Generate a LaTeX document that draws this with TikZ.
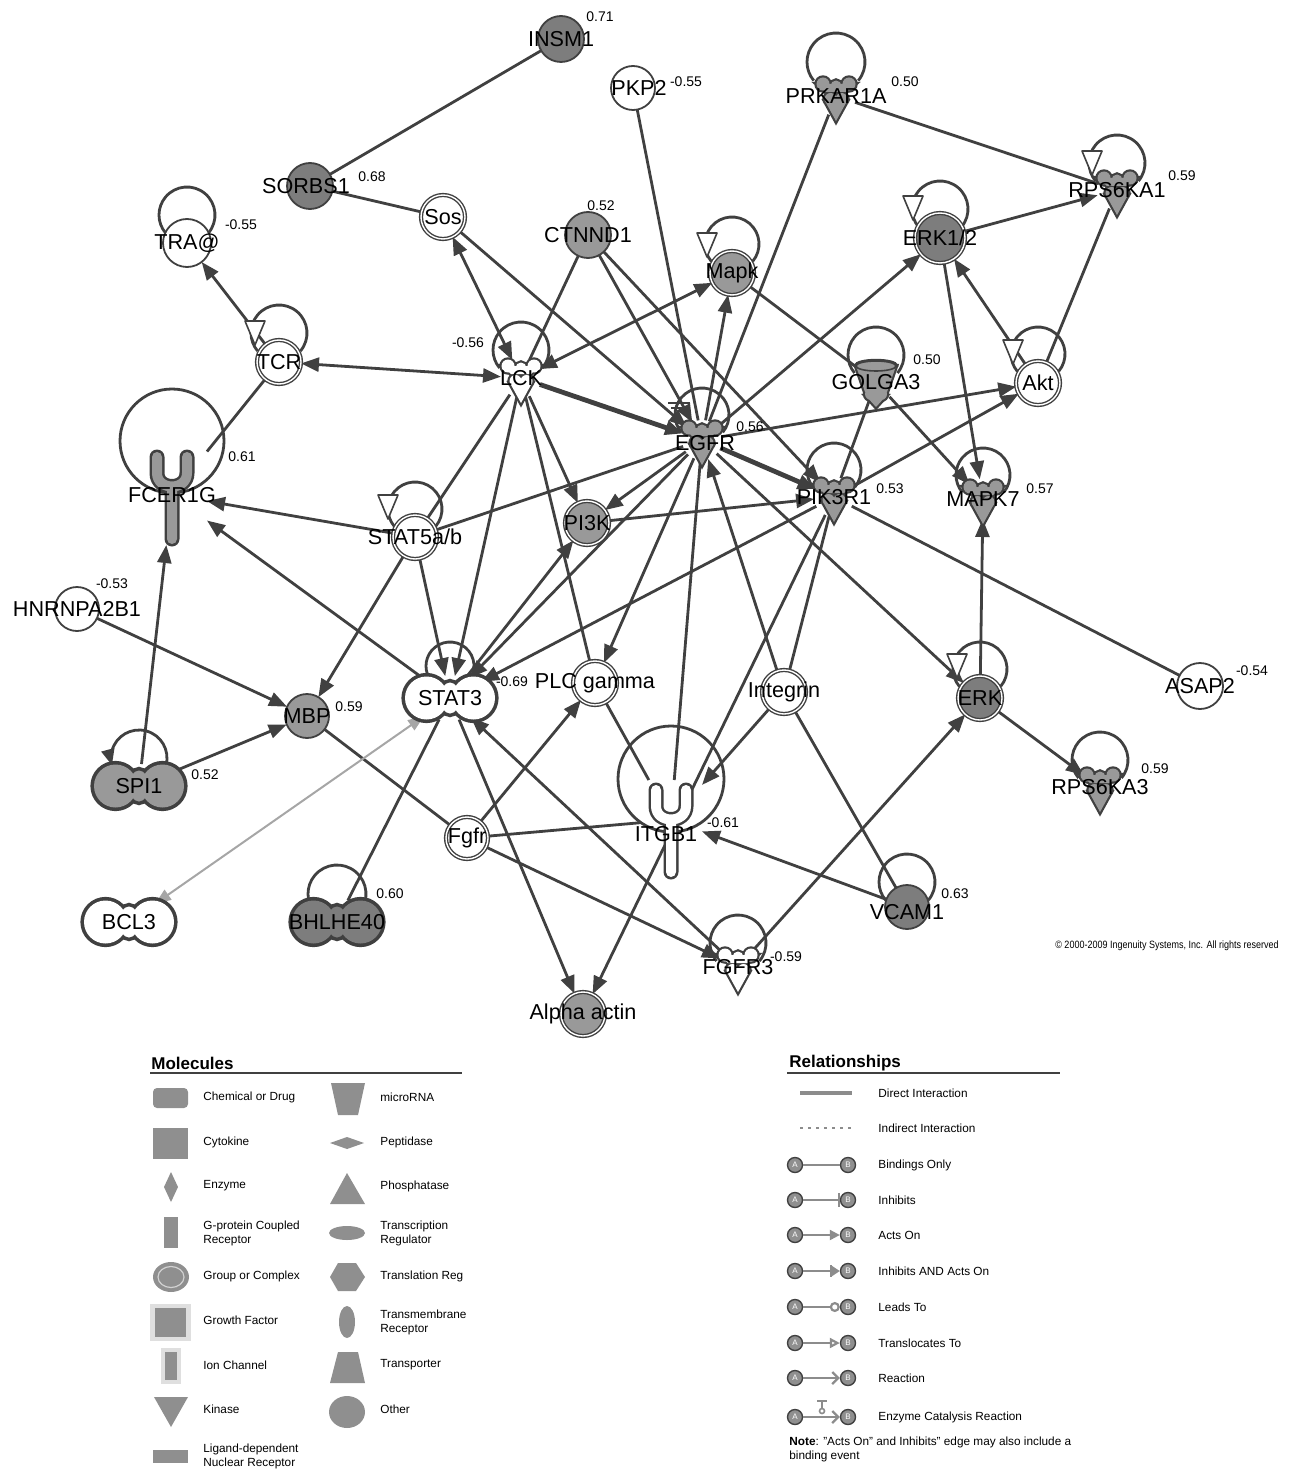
\documentclass[tikz,border=0pt]{standalone}
\usepackage{fontspec}
\setmainfont{Liberation Sans}
\usepackage{graphicx}
\usetikzlibrary{arrows.meta,shapes.geometric}
\pgfdeclarelayer{bg}
\pgfdeclarelayer{mid}
\pgfsetlayers{bg,mid,main}
\definecolor{edgec}{HTML}{404040}
\definecolor{gmid}{HTML}{999999}
\definecolor{gdark}{HTML}{7D7D7D}
\definecolor{glite}{HTML}{A6A6A6}
\definecolor{lgfill}{HTML}{8F8F8F}
\definecolor{lgline}{HTML}{8C8C8C}

\tikzset{
  lbl/.style={font=\fontsize{10.8}{12}\selectfont, inner sep=0pt},
  val/.style={font=\fontsize{7}{8}\selectfont, inner sep=0pt},
  nm/.style={label={[lbl]center:#1}},
  mol/.style={circle, inner sep=0pt, outer sep=0pt, minimum size=22pt, draw=edgec, line width=0.9pt},
  grp/.style={mol, line width=0.7pt, double=white, double distance=0.7pt},
  kin/.style={circle, inner sep=0pt, outer sep=0pt, minimum size=20pt},
  pea/.style={ellipse, inner sep=0pt, outer sep=0pt, minimum width=46pt, minimum height=22pt},
  rcpt/.style={rectangle, inner sep=0pt, outer sep=0pt, minimum width=#1},
  bind/.style={draw=edgec, line width=1.4pt},
  act/.style={bind, -{Triangle[length=9pt,width=7pt]}},
  both/.style={bind, {Triangle[length=9pt,width=7pt]}-{Triangle[length=9pt,width=7pt]}},
  thk/.style={line width=2.4pt},
  loopln/.style={draw=edgec, line width=1.4pt},
  head/.style={font=\bfseries\fontsize{8.5}{10}\selectfont, inner sep=0pt, anchor=west},
  lgt/.style={font=\fontsize{5.9}{7}\selectfont, inner sep=0pt, anchor=west, align=left},
  lgA/.style={circle, fill=lgfill, draw=edgec, line width=0.7pt, minimum size=7.5pt, inner sep=0pt,
    font=\fontsize{4}{4}\selectfont, text=white},
  lgln/.style={draw=lgline, line width=1.1pt},
  pics/kinbody/.style={code={
    \path[#1] (-13,-12) circle[radius=6.5] (13,-12) circle[radius=6.5] (0,-10) circle[radius=5.5]
      (-19,-12) -- (19,-12) -- (10,-4) -- (-10,-4) -- cycle
      (-5.5,3) circle[radius=6] (5.5,3) circle[radius=6]
      (-11,5) -- (11,5) -- (0,25) -- cycle;}},
  pics/peabody/.style={code={
    \path[#1] (-23.5,0) circle[radius=21.5] (23.5,0) circle[radius=21.5]
      (0,0) ellipse[x radius=10, y radius=15.5];}},
  pics/rcptbody/.style={code={
    \draw[#1, line cap=round] (-15,-30) -- (-15,-14) .. controls (-15,4) and (15,4) .. (15,-14) -- (15,-30)
      (0,0) -- (0,52);}},
  pics/bucket/.style={code={
    \path[#1] (0,-16) ellipse[x radius=20, y radius=5] (-20,-16) -- (20,-16) -- (11,10) -- (-11,10) -- cycle
      (-5,12) circle[radius=6] (5,12) circle[radius=6] (-10,14) -- (10,14) -- (0,25) -- cycle;}},
  pics/otri/.style={code={
    \draw[edgec, fill=white, line width=0.8pt, line join=round] (-10,-12) -- (10,-12) -- (0,12) -- cycle;}},
}

\newcommand\kinase[2]{%
  \pic at (#1.center) {kinbody={draw=edgec,line width=2.2pt}};
  \pic at (#1.center) {kinbody={fill=#2}};}
\newcommand\peanut[2]{%
  \pic at (#1.center) {peabody={draw=edgec,line width=3.6pt}};
  \pic at (#1.center) {peabody={fill=#2}};}
\newcommand\receptor[3]{%
  \pic at ([shift={(0,#3)}]#1.center) {rcptbody={draw=edgec,line width=7.5pt}};
  \pic at ([shift={(0,#3)}]#1.center) {rcptbody={draw=#2,line width=5pt}};}
\newcommand\selfloop[3]{%
  \draw[loopln] (#1.center) ++(0,-#2) ++(40:#3) arc[start angle=40, end angle=-220, radius=#3];}

\begin{document}
\begin{tikzpicture}[x=0.5pt, y=-0.5pt]
\useasboundingbox (0,0) rectangle (1293,1481);

% molecules
\node[mol, fill=gdark, minimum size=23pt, nm=INSM1] (INSM1) at (561,39) {};
\node[mol, fill=white, label={[lbl, xshift=3pt]center:PKP2}] (PKP2) at (633,88) {};
\node[kin, nm=PRKAR1A] (PRKAR1A) at (836,96) {};
\node[mol, fill=gdark, minimum size=23pt, label={[lbl, xshift=-2pt]center:SORBS1}] (SORBS1) at (310,186) {};
\node[grp, fill=white, nm=Sos] (Sos) at (443,217) {};
\node[mol, fill=white, minimum size=24pt, nm=TRA@] (TRA) at (187,243) {};
\node[mol, fill=gmid, minimum size=23pt, nm=CTNND1] (CTNND1) at (588,235) {};
\node[grp, fill=gmid, nm=Mapk] (Mapk) at (732,273) {};
\node[grp, fill=gdark, minimum size=25pt, nm=ERK1/2] (ERKa) at (940,238) {};
\node[kin, nm=RPS6KA1] (RPS6KA1) at (1117,190) {};
\node[grp, fill=white, nm=TCR] (TCR) at (279,362) {};
\node[kin, nm=LCK] (LCK) at (521,378) {};
\node[kin, nm=GOLGA3] (GOLGA3) at (876,382) {};
\node[grp, fill=white, nm=Akt] (Akt) at (1038,383) {};
\node[kin, label={[lbl, xshift=1.5pt, yshift=-1.5pt]center:EGFR}] (EGFR) at (702,440) {};
\node[kin, nm=PIK3R1] (PIK3R1) at (834,497) {};
\node[kin, nm=MAPK7] (MAPK7) at (983,499) {};
\node[rcpt=35pt, minimum height=50pt, nm=FCER1G] (FCER1G) at (172,495) {};
\node[grp, fill=white, nm=STAT5a/b] (STAT5) at (415,537) {};
\node[grp, fill=gmid, nm=PI3K] (PI3K) at (587,523) {};
\node[mol, fill=white, nm=HNRNPA2B1] (HNRNPA2B1) at (77,609) {};
\node[pea, nm=STAT3] (STAT3) at (450,698) {};
\node[grp, fill=white, nm=PLC gamma] (PLCg) at (595,683) {};
\node[grp, fill=white, nm=Integrin] (Integrin) at (784,692) {};
\node[grp, fill=gdark, nm=ERK] (ERK) at (980,698) {};
\node[mol, fill=white, minimum size=23pt, nm=ASAP2] (ASAP2) at (1200,686) {};
\node[mol, fill=gmid, nm=MBP] (MBP) at (307,716) {};
\node[pea, nm=SPI1] (SPI1) at (139,786) {};
\node[kin, nm=RPS6KA3] (RPS6KA3) at (1100,787) {};
\node[rcpt=31pt, minimum height=40pt, label={[lbl, xshift=-2.5pt, yshift=-7pt]center:ITGB1}] (ITGB1) at (671,820) {};
\node[grp, fill=white, minimum size=21pt, nm=Fgfr] (Fgfr) at (467,838) {};
\node[pea, nm=BCL3] (BCL3) at (129,922) {};
\node[pea, nm=BHLHE40] (BHLHE40) at (337,922) {};
\node[mol, fill=gdark, label={[lbl, yshift=-2.5pt]center:VCAM1}] (VCAM1) at (907,907) {};
\node[kin, nm=FGFR3] (FGFR3) at (738,967) {};
\node[grp, fill=gmid, nm=Alpha actin] (Actin) at (583,1014) {};

% shapes
\begin{pgfonlayer}{mid}
  \kinase{PRKAR1A}{gmid}
  \kinase{RPS6KA1}{gmid}
  \kinase{LCK}{white}
  \kinase{EGFR}{gmid}
  \kinase{PIK3R1}{gmid}
  \kinase{MAPK7}{gmid}
  \kinase{RPS6KA3}{gmid}
  \kinase{FGFR3}{white}
  \peanut{STAT3}{white}
  \peanut{SPI1}{gmid}
  \peanut{BCL3}{white}
  \peanut{BHLHE40}{gdark}
  \receptor{FCER1G}{gmid}{-8}
  \receptor{ITGB1}{white}{0}
  \pic at (GOLGA3.center) {bucket={draw=edgec,line width=2.2pt}};
  \pic at (GOLGA3.center) {bucket={fill=gmid}};
  \draw[edgec, line width=0.8pt] (GOLGA3.center) ++(0,-16) ellipse[x radius=20, y radius=5];
  \pic at (255,333) {otri};
  \pic at (707,245) {otri};
  \pic at (913,208) {otri};
  \pic at (1092,163) {otri};
  \pic at (1013,352) {otri};
  \pic at (388,507) {otri};
  \pic at (957,666) {otri};
\end{pgfonlayer}

% values
\node[val] (vINSM1) at (600,17) {0.71};
\node[val] (vPKP2) at (686,82) {-0.55};
\node[val] (vPRKAR1A) at (905,82) {0.50};
\node[val] (vSORBS1) at (372,177) {0.68};
\node[val] (vTRA) at (241,225) {-0.55};
\node[val] (vCTNND1) at (601,206) {0.52};
\node[val] (vRPS6KA1) at (1182,176) {0.59};
\node[val] (vLCK) at (468,343) {-0.56};
\node[val] (vGOLGA3) at (927,360) {0.50};
\node[val] (vEGFR) at (750,427) {0.56};
\node[val] (vPIK3R1) at (890,489) {0.53};
\node[val] (vMAPK7) at (1040,489) {0.57};
\node[val] (vFCER1G) at (242,457) {0.61};
\node[val] (vHNRNPA2B1) at (112,584) {-0.53};
\node[val] (vSTAT3) at (512,682) {-0.69};
\node[val] (vASAP2) at (1252,671) {-0.54};
\node[val] (vMBP) at (349,707) {0.59};
\node[val] (vSPI1) at (205,775) {0.52};
\node[val] (vRPS6KA3) at (1155,769) {0.59};
\node[val] (vITGB1) at (723,823) {-0.61};
\node[val] (vBHLHE40) at (390,894) {0.60};
\node[val] (vVCAM1) at (955,894) {0.63};
\node[val] (vFGFR3) at (786,957) {-0.59};

\node[font=\fontsize{5.3}{6}\selectfont, inner sep=0pt] (copyr) at (1167,946)
  {\scalebox{0.85}[1]{© 2000-2009 Ingenuity Systems, Inc. All rights reserved}};

% connectors
\begin{pgfonlayer}{bg}
  \selfloop{PRKAR1A}{34}{29}
  \selfloop{RPS6KA1}{27}{28}
  \selfloop{ERKa}{29}{28}
  \selfloop{Mapk}{29}{27}
  \selfloop{TRA}{28}{28}
  \selfloop{TCR}{29}{28}
  \selfloop{LCK}{28}{28}
  \selfloop{GOLGA3}{27}{28}
  \selfloop{Akt}{29}{27}
  \selfloop{EGFR}{25}{27}
  \selfloop{PIK3R1}{27}{27}
  \selfloop{MAPK7}{24}{27}
  \selfloop{STAT5}{28}{27}
  \selfloop{STAT3}{32}{24}
  \selfloop{ERK}{29}{27}
  \selfloop{RPS6KA3}{27}{28}
  \selfloop{BHLHE40}{28}{29}
  \selfloop{VCAM1}{25}{28}
  \selfloop{FGFR3}{24}{28}
  \draw[loopln, -{Triangle[length=8pt,width=6.5pt]}] (SPI1.center) ++(0,-28) ++(15:28)
    arc[start angle=15, end angle=-195, radius=28];
  \draw[loopln] (FCER1G.center) ++(0,-54) circle[radius=52];
  \draw[loopln] (ITGB1.center) ++(0,-41) circle[radius=53];
  \draw[edgec, line width=1.1pt] (668,403) -- (690,403) (671,408) -- (688,408);

  \draw[bind] (INSM1) -- (SORBS1);
  \draw[bind] (SORBS1) -- (Sos);
  \draw[bind] (PKP2) -- (EGFR);
  \draw[bind] (PRKAR1A) -- (EGFR);
  \draw[bind] (PRKAR1A) -- (RPS6KA1);
  \draw[bind] (RPS6KA1) -- (Akt);
  \draw[bind] (CTNND1) -- (LCK);
  \draw[bind] (TCR) -- (FCER1G);
  \draw[bind] (LCK) -- (PLCg);
  \draw[bind] (LCK) -- (STAT5);
  \draw[bind] (STAT5) -- (EGFR);
  \draw[bind] (GOLGA3) -- (PIK3R1);
  \draw[bind] (Mapk) -- (GOLGA3);
  \draw[bind] (EGFR) -- (ITGB1);
  \draw[bind] (PIK3R1) -- (Integrin);
  \draw[bind] (Integrin) -- (VCAM1);
  \draw[bind] (Fgfr) -- (ITGB1);
  \draw[bind] (MBP) -- (Fgfr);
  \draw[bind] (STAT3) -- (BHLHE40);
  \draw[bind] (PIK3R1) -- (ASAP2);
  \draw[bind] (PLCg) -- (ITGB1);

  \draw[act] (ERKa) -- (RPS6KA1);
  \draw[act] (Akt) -- (ERKa);
  \draw[act] (ERKa) -- (MAPK7);
  \draw[act] (EGFR) -- (ERKa);
  \draw[act] (EGFR) -- (Mapk);
  \draw[act] (Sos) -- (EGFR);
  \draw[act] (CTNND1) -- (EGFR);
  \draw[act] (CTNND1) -- (PIK3R1);
  \draw[act] (TCR) -- (TRA);
  \draw[act, thk] (LCK) -- (EGFR);
  \draw[act] (LCK) -- (PI3K);
  \draw[act] (LCK) -- (STAT3);
  \draw[act] (STAT5) -- (STAT3);
  \draw[act] (STAT5) -- (FCER1G);
  \draw[act] (STAT5) -- (MBP);
  \draw[act] (STAT3) -- (FCER1G);
  \draw[act] (STAT3) -- (PI3K);
  \draw[act] (EGFR) -- (STAT3);
  \draw[act] (PIK3R1) -- (STAT3);
  \draw[act] (EGFR) -- (PI3K);
  \draw[act] (PI3K) -- (PIK3R1);
  \draw[act, thk] (EGFR) -- (PIK3R1);
  \draw[act] (EGFR) -- (Akt);
  \draw[act] (PIK3R1) -- (Akt);
  \draw[act] (GOLGA3) -- (MAPK7);
  \draw[act] (EGFR) -- (PLCg);
  \draw[act] (Integrin) -- (EGFR);
  \draw[act] (EGFR) -- (ERK);
  \draw[act] (Fgfr) -- (FGFR3);
  \draw[act] (FGFR3) -- (STAT3);
  \draw[act] (Fgfr) -- (PLCg);
  \draw[act] (HNRNPA2B1) -- (MBP);
  \draw[act] (SPI1) -- (MBP);
  \draw[act] (SPI1) -- (FCER1G);
  \draw[act] (STAT3) -- (Actin);
  \draw[act] (PIK3R1) -- (Actin);
  \draw[act] (Integrin) -- (ITGB1);
  \draw[act] (VCAM1) -- (ITGB1);
  \draw[act] (FGFR3) -- (ERK);
  \draw[act] (ERK) -- (MAPK7);
  \draw[act] (ERK) -- (RPS6KA3);

  \draw[both] (TCR) -- (LCK);
  \draw[both] (LCK) -- (Mapk);
  \draw[both] (Sos) -- (LCK);
  \draw[draw=glite, line width=1pt, {Triangle[length=8pt,width=6pt]}-{Triangle[length=8pt,width=6pt]}] (STAT3) -- (BCL3);
\end{pgfonlayer}

% legend: molecules
\node[head] (molhead) at (151,1063) {Molecules};
\draw[edgec, line width=0.6pt] (150,1073) -- (462,1073);
\fill[lgfill, rounded corners=2pt] (153,1088) rectangle (188,1108);
\fill[lgfill] (153,1128) rectangle (188,1159);
\fill[lgfill] (171,1172) -- (178,1187) -- (171,1202) -- (164,1187) -- cycle;
\fill[lgfill] (164,1217) rectangle (178,1248);
\fill[lgfill] (171,1277) ellipse[x radius=18, y radius=15];
\draw[gray!35, line width=0.6pt] (171,1277) ellipse[x radius=13, y radius=10.5];
\fill[gray!25] (150,1304) rectangle (191,1341);
\fill[lgfill] (155,1308) rectangle (186,1337);
\fill[gray!25] (161,1348) rectangle (181,1384);
\fill[lgfill] (165,1352) rectangle (177,1380);
\fill[lgfill] (154,1397) -- (188,1397) -- (171,1427) -- cycle;
\fill[lgfill] (153,1450) rectangle (188,1463);
\fill[lgfill] (331,1083) -- (365,1083) -- (358,1115) -- (338,1115) -- cycle;
\fill[lgfill] (330,1143) -- (347,1137) -- (364,1143) -- (347,1149) -- cycle;
\fill[lgfill] (347,1173) -- (365,1204) -- (330,1204) -- cycle;
\fill[lgfill] (347,1233) ellipse[x radius=18, y radius=7];
\fill[lgfill] (330,1277) -- (338,1263) -- (356,1263) -- (365,1277) -- (356,1291) -- (338,1291) -- cycle;
\fill[lgfill] (347,1322) ellipse[x radius=8, y radius=16];
\fill[lgfill] (338,1352) -- (358,1352) -- (365,1383) -- (330,1383) -- cycle;
\fill[lgfill] (347,1412) ellipse[x radius=18, y radius=16];

\node[lgt] (tchem) at (203,1097) {Chemical or Drug};
\node[lgt] (tcyto) at (203,1142) {Cytokine};
\node[lgt] (tenz) at (203,1186) {Enzyme};
\node[lgt] (tgpcr) at (203,1233) {G-protein Coupled\\Receptor};
\node[lgt] (tgrp) at (203,1276) {Group or Complex};
\node[lgt] (tgf) at (203,1320) {Growth Factor};
\node[lgt] (tion) at (203,1365) {Ion Channel};
\node[lgt] (tkin) at (203,1409) {Kinase};
\node[lgt] (tlig) at (203,1456) {Ligand-dependent\\Nuclear Receptor};
\node[lgt] (tmir) at (380,1097) {microRNA};
\node[lgt] (tpep) at (380,1142) {Peptidase};
\node[lgt] (tpho) at (380,1186) {Phosphatase};
\node[lgt] (ttr) at (380,1233) {Transcription\\Regulator};
\node[lgt] (ttl) at (380,1276) {Translation Reg};
\node[lgt] (ttm) at (380,1322) {Transmembrane\\Receptor};
\node[lgt] (ttp) at (380,1365) {Transporter};
\node[lgt] (toth) at (380,1409) {Other};

% legend: relationships
\node[head] (relhead) at (789,1063) {Relationships};
\draw[edgec, line width=0.6pt] (787,1073) -- (1060,1073);
\draw[draw=lgline, line width=1.6pt] (800,1093) -- (852,1093);
\draw[draw=lgline, line width=1.2pt, dash pattern=on 1.5pt off 2.5pt] (800,1128) -- (852,1128);
\node[lgA] (A3) at (795,1165) {A};  \node[lgA] (B3) at (848,1165) {B};
\node[lgA] (A4) at (795,1200) {A};  \node[lgA] (B4) at (848,1200) {B};
\node[lgA] (A5) at (795,1235) {A};  \node[lgA] (B5) at (848,1235) {B};
\node[lgA] (A6) at (795,1271) {A};  \node[lgA] (B6) at (848,1271) {B};
\node[lgA] (A7) at (795,1307) {A};  \node[lgA] (B7) at (848,1307) {B};
\node[lgA] (A8) at (795,1343) {A};  \node[lgA] (B8) at (848,1343) {B};
\node[lgA] (A9) at (795,1378) {A};  \node[lgA] (B9) at (848,1378) {B};
\node[lgA] (A10) at (795,1417) {A}; \node[lgA] (B10) at (848,1417) {B};
\draw[lgln] (A3) -- (B3);
\draw[lgln, -{Bar[width=7pt]}] (A4) -- (B4);
\draw[lgln, -{Triangle[length=5pt,width=5pt]}] (A5) -- (B5);
\draw[lgln, -{Bar[width=6pt] Triangle[length=4pt,width=5pt]}] (A6) -- (B6);
\draw[lgln, -{Circle[open, length=5pt, width=5pt]}] (A7) -- (B7);
\draw[lgln, -{Triangle[open, length=5pt, width=5pt]}] (A8) -- (B8);
\draw[lgln, -{Straight Barb[length=3pt, width=6pt]}] (A9) -- (B9);
\draw[lgln, -{Straight Barb[length=3pt, width=6pt]}] (A10) -- (B10);
\draw[lgln, line width=0.9pt] (817,1401) -- (827,1401) (822,1401) -- (822,1409);
\draw[lgln, line width=0.8pt, fill=white] (822,1411) circle[radius=2.5];

\node[lgt] (rdir) at (878,1093) {Direct Interaction};
\node[lgt] (rind) at (878,1128) {Indirect Interaction};
\node[lgt] (rbind) at (878,1165) {Bindings Only};
\node[lgt] (rinh) at (878,1200) {Inhibits};
\node[lgt] (racts) at (878,1235) {Acts On};
\node[lgt] (rinac) at (878,1271) {Inhibits AND Acts On};
\node[lgt] (rlead) at (878,1307) {Leads To};
\node[lgt] (rtrans) at (878,1343) {Translocates To};
\node[lgt] (rreac) at (878,1378) {Reaction};
\node[lgt] (renz) at (878,1417) {Enzyme Catalysis Reaction};
\node[lgt] (note) at (789,1449) {\textbf{Note}: "Acts On" and Inhibits" edge may also include a\\binding event};
\end{tikzpicture}
\end{document}
